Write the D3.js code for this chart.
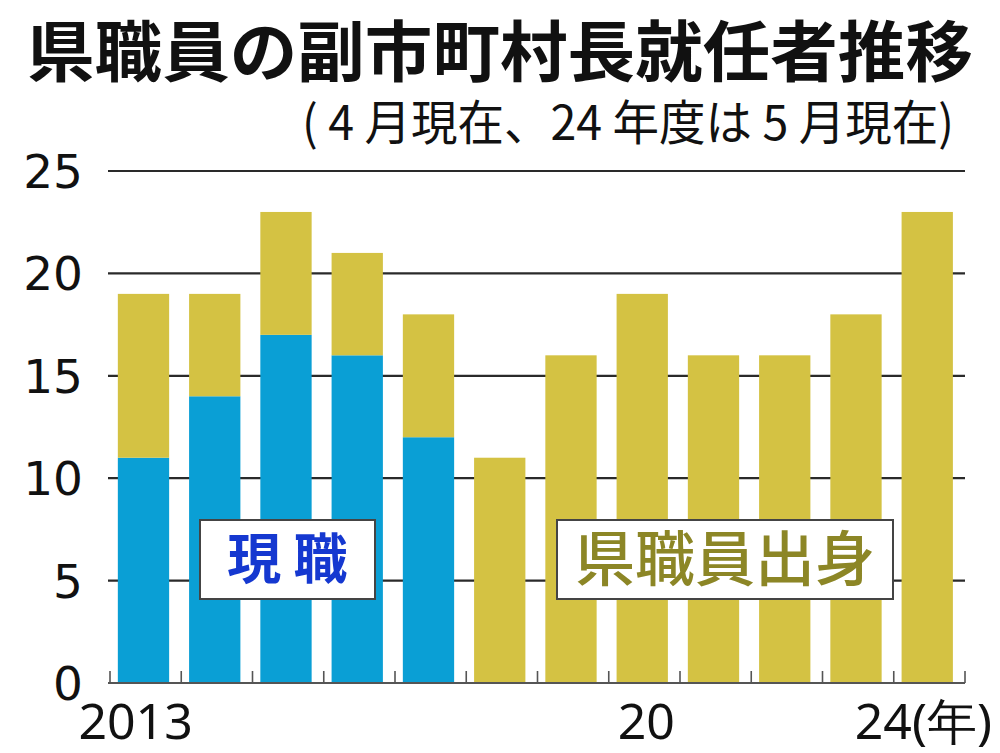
<!DOCTYPE html>
<html>
<head>
<meta charset="utf-8">
<script src="https://cdn.jsdelivr.net/npm/d3@7"></script>
<style>
  html, body { margin: 0; padding: 0; background: #fff; }
  svg { display: block; }
</style>
</head>
<body>
<svg id="chart" width="1000" height="753"></svg>
<script>
// ---- data ----
const years = ["2013","2014","2015","2016","2017","2018","2019","2020","2021","2022","2023","2024"];
const currentStaff = [11, 14, 17, 16, 12, 0, 0, 0, 0, 0, 0, 0];   // 現職
const formerStaff  = [8, 5, 6, 5, 6, 11, 16, 19, 16, 16, 18, 23];  // 県職員出身
const yTicks = [0, 5, 10, 15, 20, 25];
const xTickLabels = ["2013", "", "", "", "", "", "", "20", "", "", "", "24(年)"];
const seriesKeys = ["current", "former"];
const seriesNames = ["現職", "県職員出身"];

// ---- layout ----
const plotLeft = 110, plotRight = 965, plotTop = 171, plotBottom = 683;
const colors = { current: "#0a9fd5", former: "#d4c243" };

const svg = d3.select("#chart");

const rows = years.map((y, i) => ({ year: y, current: currentStaff[i], former: formerStaff[i] }));
const stacked = d3.stack().keys(seriesKeys)(rows);

const x = d3.scaleBand().domain(years).range([plotLeft, plotRight]).padding(0);
const y = d3.scaleLinear().domain([0, 25]).range([plotBottom, plotTop]);

// Title
svg.append("text")
  .attr("x", 27).attr("y", 76)
  .attr("font-family", "'Noto Sans CJK JP', sans-serif")
  .attr("font-weight", 700)
  .attr("font-size", 66)
  .attr("fill", "#111")
  .attr("textLength", 946)
  .attr("lengthAdjust", "spacingAndGlyphs")
  .text("県職員の副市町村長就任者推移");

// Subtitle
svg.append("text")
  .attr("x", 302).attr("y", 140)
  .attr("font-family", "'Noto Sans CJK JP', sans-serif")
  .attr("font-weight", 400)
  .attr("font-size", 48)
  .attr("fill", "#111")
  .attr("textLength", 652)
  .attr("lengthAdjust", "spacingAndGlyphs")
  .text("( 4 月現在、24 年度は 5 月現在)");

// Gridlines
svg.append("g")
  .selectAll("line")
  .data(yTicks.filter(d => d > 0))
  .join("line")
  .attr("x1", plotLeft - 2).attr("x2", plotRight)
  .attr("y1", d => y(d)).attr("y2", d => y(d))
  .attr("stroke", "#2a2a2a").attr("stroke-width", 2.2);

// Y labels
svg.append("g")
  .selectAll("text")
  .data(yTicks)
  .join("text")
  .attr("x", 83).attr("y", d => y(d) + 17)
  .attr("text-anchor", "end")
  .attr("font-family", "'DejaVu Sans', sans-serif")
  .attr("font-size", 47)
  .attr("fill", "#111")
  .text(d => d);

// Bars
const barOffset = x.bandwidth() * 0.11;
const barWidth = x.bandwidth() * 0.72;
svg.append("g")
  .selectAll("g")
  .data(stacked)
  .join("g")
  .attr("fill", s => colors[s.key])
  .selectAll("rect")
  .data(s => s.filter(d => d[1] - d[0] > 0))
  .join("rect")
  .attr("x", d => x(d.data.year) + barOffset)
  .attr("width", barWidth)
  .attr("y", d => y(d[1]))
  .attr("height", d => y(d[0]) - y(d[1]));

// Baseline axis with upward ticks at band boundaries
const axisG = svg.append("g");
axisG.append("line")
  .attr("x1", plotLeft - 2).attr("x2", plotRight)
  .attr("y1", y(0)).attr("y2", y(0))
  .attr("stroke", "#555").attr("stroke-width", 2);
const boundaries = years.map(d => x(d)).concat([x(years[years.length - 1]) + x.bandwidth()]);
axisG.selectAll("line.tick")
  .data(boundaries)
  .join("line")
  .attr("class", "tick")
  .attr("x1", d => d).attr("x2", d => d)
  .attr("y1", y(0)).attr("y2", y(0) - 12)
  .attr("stroke", "#555").attr("stroke-width", 1.6);

// X labels
svg.append("g")
  .selectAll("text")
  .data(years.map((d, i) => ({ year: d, label: xTickLabels[i] })).filter(d => d.label))
  .join("text")
  .attr("x", d => x(d.year) + x.bandwidth() / 2 - (d.label === "2013" ? 10 : (d.label === "20" ? -2 : 6)))
  .attr("y", 739)
  .attr("text-anchor", "middle")
  .attr("font-family", "'Noto Sans', sans-serif")
  .attr("font-size", 50)
  .attr("fill", "#111")
  .text(d => d.label);

// Legend boxes
const legends = [
  { name: seriesNames[0], x: 200, y: 520, w: 175, h: 79, color: "#1538d0", weight: 700, size: 54, text: "現 職" },
  { name: seriesNames[1], x: 557, y: 520, w: 336, h: 79, color: "#8c8626", weight: 500, size: 60, text: "県職員出身" }
];
const lg = svg.append("g").selectAll("g").data(legends).join("g");
lg.append("rect")
  .attr("x", d => d.x).attr("y", d => d.y)
  .attr("width", d => d.w).attr("height", d => d.h)
  .attr("fill", "#fff").attr("stroke", "#444").attr("stroke-width", 2);
lg.append("text")
  .attr("x", d => d.x + d.w / 2).attr("y", d => d.y + d.h / 2 + d.size * 0.36)
  .attr("text-anchor", "middle")
  .attr("font-family", "'Noto Sans CJK JP', sans-serif")
  .attr("font-weight", d => d.weight)
  .attr("font-size", d => d.size)
  .attr("fill", d => d.color)
  .text(d => d.text);
</script>
</body>
</html>
